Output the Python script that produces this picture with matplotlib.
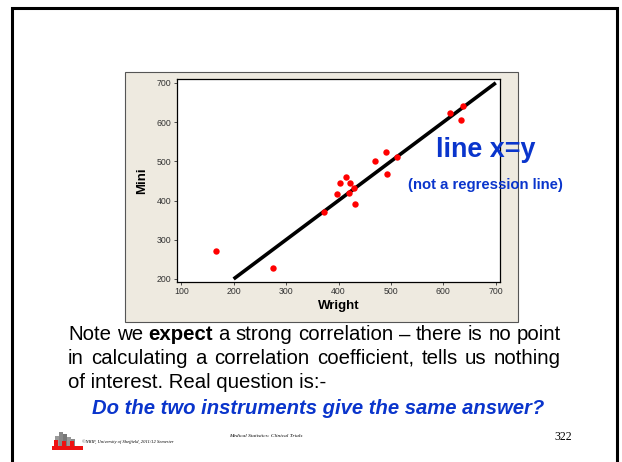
import matplotlib
matplotlib.use("Agg")
import matplotlib.pyplot as plt
from matplotlib.patches import Rectangle

W, H = 622, 462

# readings from the picture
wright = [167, 276, 373, 398, 402, 415, 420, 422, 429, 432, 470, 491, 492, 512, 612, 633, 638]
mini = [270, 228, 371, 416, 444, 460, 420, 444, 433, 390, 500, 524, 467, 510, 624, 605, 641]
xticks = [100, 200, 300, 400, 500, 600, 700]
yticks = [200, 300, 400, 500, 600, 700]
line_xy = [200, 700]

blue = '#0A35CC'
plt.rcParams['font.family'] = ['Liberation Sans', 'DejaVu Sans']


def px(x, y):
    # pixel position (from top-left) -> figure fraction
    return x / W, 1 - y / H


def justified(words, y, left, right, size):
    # words: list of (text, weight); spread them from left to right (pixels)
    r = fig.canvas.get_renderer()
    items = []
    for w, wt in words:
        t = fig.text(0, 1 - y / H, w, fontsize=size, fontweight=wt, va='center')
        items.append((t, t.get_window_extent(r).width))
    gap = (right - left - sum(w for _, w in items)) / (len(items) - 1)
    x = left
    for t, w in items:
        t.set_x(x / W)
        x += w + gap


fig = plt.figure(figsize=(W / 100, H / 100), dpi=100)
fig.patch.set_facecolor('white')

# slide border
fig.patches.append(Rectangle(px(12, 470), 605 / W, 462 / H, transform=fig.transFigure,
                             fill=False, edgecolor='black', lw=2.2))
# beige minitab panel
fig.patches.append(Rectangle(px(125, 322), 393 / W, 250 / H, transform=fig.transFigure,
                             facecolor='#EEEAE0', edgecolor='#555555', lw=0.8))

ax = fig.add_axes([177 / W, 1 - 281.7 / H, 323 / W, 202.4 / H])
ax.set_zorder(5)
ax.set_facecolor('white')
ax.plot(line_xy, line_xy, color='black', lw=2.6, solid_capstyle='butt', zorder=2)
ax.plot(wright, mini, 'o', color='#FF0000', ms=4.6, mec='none', zorder=3)
ax.set_xlim(92, 708)
ax.set_ylim(193, 709)
ax.set_xticks(xticks)
ax.set_yticks(yticks)
ax.tick_params(labelsize=6.3, length=2.5, width=0.6, pad=1.5, colors='#333333')
for s in ax.spines.values():
    s.set_linewidth(0.9)
    s.set_color('black')
ax.set_xlabel('Wright', fontsize=9.5, fontweight='bold', labelpad=3)
ax.set_ylabel('Mini', fontsize=9.5, fontweight='bold', labelpad=6)

# annotations over the chart
fig.text(*px(486, 150), 'line x=y', color=blue, fontsize=19.4, fontweight='bold',
         ha='center', va='center', zorder=10)
fig.text(*px(485, 185), '(not a regression line)', color=blue, fontsize=10.7,
         fontweight='bold', ha='center', va='center', zorder=10)

# slide text
body = 14.7
line1 = [('Note', 'normal'), ('we', 'normal'), ('expect', 'bold')] + \
        [(w, 'normal') for w in 'a strong correlation \u2013 there is no point'.split()]
line2 = [(w, 'normal') for w in
         'in calculating a correlation coefficient, tells us nothing'.split()]
justified(line1, 335, 68, 561, body)
justified(line2, 358, 68, 561, body)
fig.text(*px(68, 382), 'of interest. Real question is:-', fontsize=body, va='center')
fig.text(*px(318, 408), 'Do the two instruments give the same answer?', color=blue,
         fontsize=14.6, fontweight='bold', style='italic', ha='center', va='center')

# footer
fig.patches.append(Rectangle(px(52, 450), 31 / W, 4 / H, transform=fig.transFigure,
                             facecolor='#EE1111', edgecolor='none'))
for xb, h, c in [(55, 10, '#999999'), (59, 14, '#888888'), (63, 12, '#777777'),
                 (67, 9, '#999999'), (71, 7, '#888888'), (54, 6, '#EE1111'),
                 (62, 5, '#EE1111'), (70, 5, '#EE1111')]:
    fig.patches.append(Rectangle(px(xb, 446), 4 / W, h / H, transform=fig.transFigure,
                                 facecolor=c, edgecolor='none'))
fig.text(*px(82, 442), '\u00a9NRIF, University of Sheffield, 2011/12 Semester',
         fontsize=3.3, family='Liberation Serif', style='italic', va='center')
fig.text(*px(266, 436), 'Medical Statistics: Clinical Trials', fontsize=3.9,
         family='Liberation Serif', style='italic', ha='center', va='center')
fig.text(*px(563, 437), '322', fontsize=8.5, family='Liberation Serif',
         ha='center', va='center')

fig.savefig('out.png', dpi=100)
